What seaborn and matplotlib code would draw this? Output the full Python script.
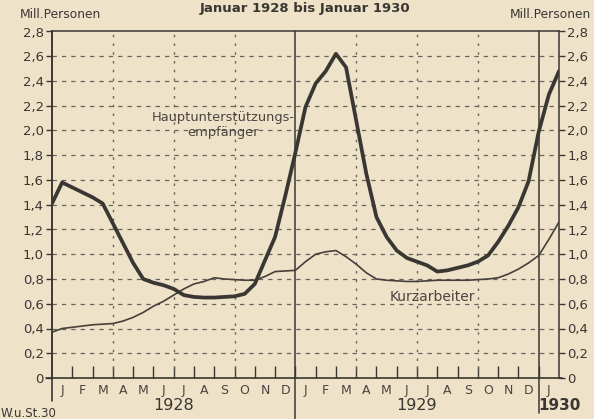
import numpy as np
import pandas as pd
import matplotlib
matplotlib.use("Agg")
import matplotlib.pyplot as plt
import seaborn as sns

# ---- data (Mill. Personen, half-month steps, Jan 1928 .. Jan 1930) ----
stichtage = np.arange(0, 25.01, 0.5)  # month positions (0 = start of Jan 1928)
haupt = [1.41, 1.58, 1.54, 1.50, 1.46, 1.41, 1.25, 1.09, 0.93, 0.80,
         0.77, 0.75, 0.72, 0.67, 0.655, 0.65, 0.65, 0.655, 0.66, 0.68,
         0.76, 0.95, 1.14, 1.47, 1.82, 2.19, 2.38, 2.48, 2.62, 2.51,
         2.08, 1.65, 1.30, 1.14, 1.03, 0.97, 0.94, 0.91, 0.86, 0.87,
         0.89, 0.91, 0.94, 0.99, 1.10, 1.23, 1.38, 1.59, 1.99, 2.29,
         2.48]
kurz = [0.37, 0.40, 0.41, 0.42, 0.43, 0.435, 0.44, 0.46, 0.49, 0.53,
        0.58, 0.62, 0.67, 0.72, 0.76, 0.78, 0.81, 0.80, 0.795, 0.79,
        0.79, 0.82, 0.86, 0.865, 0.87, 0.94, 1.00, 1.02, 1.03, 0.98,
        0.92, 0.85, 0.80, 0.79, 0.785, 0.78, 0.78, 0.785, 0.79, 0.79,
        0.79, 0.79, 0.795, 0.80, 0.81, 0.84, 0.88, 0.93, 0.99, 1.12,
        1.26]
monatsnamen = list("JFMAMJJASOND") * 2 + ["J"]
jahre = ["1928", "1929", "1930"]
y_ticks = [0, 0.2, 0.4, 0.6, 0.8, 1.0, 1.2, 1.4, 1.6, 1.8, 2.0, 2.2, 2.4, 2.6, 2.8]
y_labels = ["0", "0,2", "0,4", "0,6", "0,8", "1,0", "1,2", "1,4", "1,6",
            "1,8", "2,0", "2,2", "2,4", "2,6", "2,8"]

bg = "#EEE2C9"
ink = "#3a3632"
grid = "#6a645d"

sns.set_theme(style="white")
plt.rcParams['font.family'] = ['DejaVu Sans']

fig = plt.figure(figsize=(5.94, 4.19), dpi=100)
fig.patch.set_facecolor(bg)
ax = fig.add_axes([52 / 594, 41 / 419, 507 / 594, 346.5 / 419])
ax.set_facecolor(bg)

df = pd.DataFrame({
    "Monat": np.concatenate([stichtage, stichtage]),
    "Mill": haupt + kurz,
    "Reihe": ["Haupt"] * len(haupt) + ["Kurz"] * len(kurz),
})

# grid
for y in y_ticks[1:-1]:
    ax.axhline(y, color=grid, lw=0.9, ls=(0, (3.5, 4)), zorder=1)
for x in [3, 6, 9, 15, 18, 21]:
    ax.axvline(x, color=grid, lw=1.0, ls=(0, (1.8, 4.5)), zorder=1)
# year separators, extended below the axis
ax.axvline(12, ymin=-0.12, ymax=1, color=ink, lw=1.1, clip_on=False, zorder=2)
ax.axvline(24, ymin=-0.10, ymax=1, color=ink, lw=1.1, clip_on=False, zorder=2)
ax.axvline(0, ymin=-0.065, ymax=1, color=ink, lw=1.2, clip_on=False, zorder=2)
ax.plot([-0.012, 1.006], [0, 0], transform=ax.transAxes, color=ink, lw=1.2,
        clip_on=False, zorder=2)

sns.lineplot(data=df[df.Reihe == "Kurz"], x="Monat", y="Mill", color="#463f3a",
             lw=1.2, ax=ax, legend=False, zorder=3)
sns.lineplot(data=df[df.Reihe == "Haupt"], x="Monat", y="Mill", color=ink,
             lw=2.7, ax=ax, legend=False, zorder=4)

ax.set_xlim(0, 25)
ax.set_ylim(0, 2.8)
ax.set_xlabel("")
ax.set_ylabel("")

for s in ["left", "right", "top"]:
    ax.spines[s].set_color(ink)
    ax.spines[s].set_linewidth(1.1)
ax.spines["bottom"].set_visible(False)

ax.set_yticks(y_ticks)
ax.set_yticklabels(y_labels)
ax.tick_params(axis="y", which="major", left=True, right=True, labelleft=True,
               labelright=True, direction="out", length=4, width=1,
               color=ink, labelcolor=ink, labelsize=9.5, pad=2)

ax.set_xticks(np.arange(25) + 0.5)
ax.set_xticklabels(monatsnamen)
ax.set_xticks(np.arange(1, 25), minor=True)
ax.tick_params(axis="x", which="major", length=0, labelsize=9,
               labelcolor="#4a4540", pad=4)
ax.tick_params(axis="x", which="minor", bottom=True, direction="in",
               length=9, width=1, color=ink)

ax.annotate(jahre[0], xy=(6, 0), xycoords=("data", "axes fraction"),
            xytext=(0, -19.5), textcoords="offset points", ha="center",
            va="center", fontsize=11.5, color=ink)
ax.annotate(jahre[1], xy=(18, 0), xycoords=("data", "axes fraction"),
            xytext=(0, -19.5), textcoords="offset points", ha="center",
            va="center", fontsize=11.5, color=ink)
ax.annotate(jahre[2], xy=(24, 0), xycoords=("data", "axes fraction"),
            xytext=(0, -19.5), textcoords="offset points", ha="left",
            va="center", fontsize=11, color=ink, fontweight="bold")

ax.text(8.45, 2.045, "Hauptunterstützungs-\nempfänger", ha="center",
        va="center", fontsize=9.4, color="#4a4540", linespacing=1.15,
        zorder=5)
ax.text(18.75, 0.655, "Kurzarbeiter", ha="center", va="center",
        fontsize=10, color="#4a4540", zorder=5)

fig.text(20 / 594, 1 - 15 / 419, "Mill.Personen", ha="left", va="center",
         fontsize=8.8, color=ink)
fig.text(591 / 594, 1 - 15 / 419, "Mill.Personen", ha="right", va="center",
         fontsize=8.8, color=ink)
fig.text(305 / 594, 1 - 2 / 419, "Januar 1928 bis Januar 1930", ha="center",
         va="top", fontsize=9.5, fontweight="bold", color=ink)
fig.text(1 / 594, 6 / 419, "W.u.St.30", ha="left", va="center",
         fontsize=8.5, color=ink)

fig.savefig("out.png", dpi=100, facecolor=bg)
